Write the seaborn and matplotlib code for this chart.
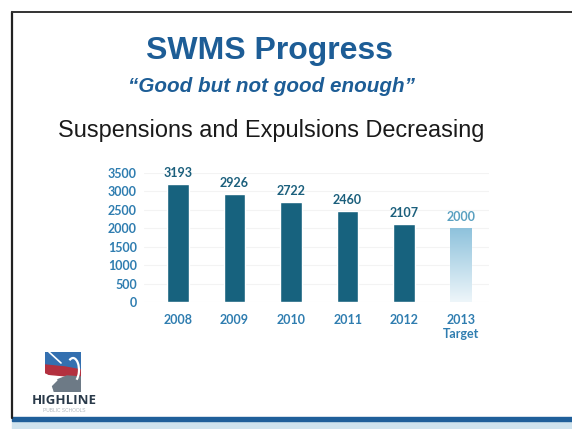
import numpy as np
import pandas as pd
import matplotlib.pyplot as plt
import seaborn as sns
from matplotlib.patches import Polygon, Rectangle, Arc
from matplotlib.lines import Line2D

# Slide data
years = ["2008", "2009", "2010", "2011", "2012", "2013\nTarget"]
incidents = [3193, 2926, 2722, 2460, 2107, 2000]
y_ticks = [0, 500, 1000, 1500, 2000, 2500, 3000, 3500]

df = pd.DataFrame({"year": years, "count": incidents})

sns.set_style("white")
plt.rcParams["font.family"] = ["Liberation Sans", "DejaVu Sans"]

fig = plt.figure(figsize=(5.72, 4.29), dpi=100)
fig.patch.set_facecolor("white")

H = 429.0
W = 572.0

# slide frame (scanned edges)
fig.add_artist(Line2D([12 / W, 12 / W], [1 - 12 / H, 1 - 418 / H], color="#222222", lw=1.6))
fig.add_artist(Line2D([12 / W, 1.0], [1 - 12 / H, 1 - 12 / H], color="#333333", lw=1.4))
fig.add_artist(Rectangle((12 / W, 0), 1 - 12 / W, 8 / H, color="#cfe3ee", transform=fig.transFigure))
fig.add_artist(Rectangle((12 / W, 8 / H), 1 - 12 / W, 4 / H, color="#1f5f9a", transform=fig.transFigure))

# titles
fig.text(270 / W, 1 - 51 / H, "SWMS Progress", ha="center", va="center",
         fontsize=23, fontweight="bold", color="#1d5d96")
fig.text(272 / W, 1 - 86 / H, "\u201cGood but not good enough\u201d", ha="center", va="center",
         fontsize=14.9, fontweight="bold", fontstyle="italic", color="#1d5d96")
fig.text(271 / W, 1 - 130 / H, "Suspensions and Expulsions Decreasing", ha="center", va="center",
         fontsize=16.9, color="#1a1a1a")

# chart
ax = fig.add_axes([144 / W, 127 / H, 345 / W, 129 / H])
bar_colors = ["#17627e"] * 5 + ["#9ccbe0"]
sns.barplot(data=df, x="year", y="count", hue="year", palette=bar_colors,
            legend=False, width=0.38, ax=ax, saturation=1)

# gradient on the target bar
target = ax.patches[-1]
x0, y0 = target.get_x(), target.get_y()
bw, bh = target.get_width(), target.get_height()
grad = np.linspace(0, 1, 256).reshape(-1, 1)
cmap = sns.blend_palette(["#eef6fa", "#8ec2dc"], as_cmap=True)
img = ax.imshow(grad, extent=[x0, x0 + bw, y0, y0 + bh], origin="lower",
                cmap=cmap, aspect="auto", zorder=target.get_zorder())
img.set_clip_path(target)
target.set_facecolor("none")

ax.set_xlim(-0.6, 5.5)
ax.set_ylim(0, 3500)
ax.set_yticks(y_ticks)
ax.set_xlabel("")
ax.set_ylabel("")
ax.yaxis.grid(True, color="#f3f3f3", lw=0.8)
ax.set_axisbelow(True)
sns.despine(ax=ax, left=True, bottom=True)

tick_font = ["Lato", "DejaVu Sans"]
ax.tick_params(axis="y", length=0, pad=5, labelsize=9, labelcolor="#2f7db0")
ax.tick_params(axis="x", length=0, pad=9, labelsize=9, labelcolor="#2f7db0")
for lab in ax.get_yticklabels() + ax.get_xticklabels():
    lab.set_family(tick_font)
    lab.set_fontweight("bold")

for i, cont in enumerate(ax.containers):
    col = "#5aa0c0" if i == len(ax.containers) - 1 else "#1b5f7c"
    ax.bar_label(cont, labels=[str(incidents[i])], padding=3.5, fontsize=9,
                 fontweight="bold", color=col, family=tick_font)

# district logo
logo_ax = fig.add_axes([45 / W, 1 - 392 / H, 36 / W, 40 / H])
logo_ax.set_xlim(0, 36)
logo_ax.set_ylim(0, 40)
logo_ax.axis("off")
logo_ax.add_patch(Polygon([(0, 40), (36, 40), (36, 22), (20, 25), (0, 27)], color="#3470b0"))
logo_ax.add_patch(Polygon([(0, 27), (20, 25), (36, 22), (36, 15), (22, 16), (0, 18)], color="#b3303f"))
logo_ax.add_patch(Polygon([(8, 0), (36, 0), (36, 15), (22, 16), (12, 12), (6, 6)], color="#6d7a86"))
logo_ax.add_patch(Polygon([(0, 0), (8, 0), (6, 6), (12, 12), (0, 18)], color="white"))
logo_ax.add_line(Line2D([4, 16], [40, 29], color="white", lw=1.2))
logo_ax.add_patch(Arc((28, 22), 12, 24, theta1=-70, theta2=110, color="white", lw=1.6))
fig.text(64 / W, 1 - 400 / H, "HIGHLINE", ha="center", va="center", fontsize=9.5,
         fontweight="bold", color="#2a3a4a", family=["Open Sans", "DejaVu Sans"])
fig.text(64 / W, 1 - 410 / H, "PUBLIC SCHOOLS", ha="center", va="center", fontsize=3.5,
         color="#b0b8bf")

fig.savefig("out.png", dpi=100)
